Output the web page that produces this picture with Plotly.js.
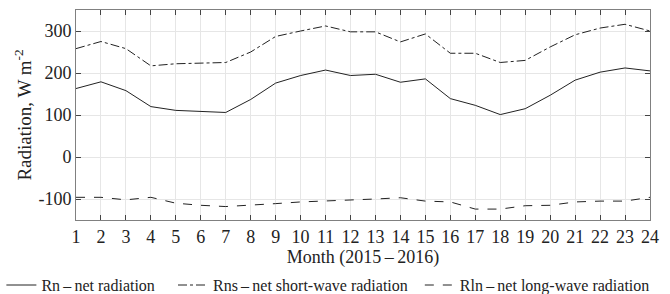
<!DOCTYPE html>
<html><head><meta charset="utf-8">
<script src="https://cdn.plot.ly/plotly-3.0.1.min.js"></script>
<style>html,body{margin:0;padding:0;background:#fff}#chart{width:670px;height:294px}</style>
</head><body><div id="chart"></div>
<script>
const months = [1,2,3,4,5,6,7,8,9,10,11,12,13,14,15,16,17,18,19,20,21,22,23,24];
const rn  = [163,179,158,120,111,108,106,137,176,194,207,194,197,178,186,139,123,101,115,147,183,202,212,205];
const rns = [258,275,258,217,222,223,225,250,287,300,312,298,298,274,293,247,247,225,230,262,291,307,316,300];
const rln = [-96,-96,-102,-96,-110,-115,-118,-115,-111,-107,-105,-103,-100,-97,-105,-107,-124,-124,-116,-115,-107,-105,-105,-96];
const names = ['Rn\u2009\u2013\u2009net radiation','Rns\u2009\u2013\u2009net short-wave radiation','Rln\u2009\u2013\u2009net long-wave radiation'];
const yTicks = [-100,0,100,200,300];

const ff = '"Liberation Serif", "Times New Roman", serif';
const F = (s)=>({family:ff, size:s, color:'#222'});
const traces = [
  {x:months, y:rn, name:names[0], mode:'lines', legend:'legend', line:{color:'#222', width:1, dash:'solid'}},
  {x:months, y:rns, name:names[1], mode:'lines', legend:'legend2', line:{color:'#222', width:1, dash:'dashdot'}},
  {x:months, y:rln, name:names[2], mode:'lines', legend:'legend3', line:{color:'#222', width:1, dash:'dash'}}
];
const leg = (x)=>({orientation:'h', x:x, xanchor:'left', y:-0.31, yanchor:'middle', font:F(16), bgcolor:'rgba(0,0,0,0)'});
const axisCommon = {showgrid:true, gridcolor:'#e6e6e6', gridwidth:1, ticks:'inside', ticklen:5, tickcolor:'#444',
  showline:true, linecolor:'#808080', linewidth:1, mirror:'ticks', zeroline:false};
const layout = {
  width:670, height:294,
  margin:{l:76, r:20, t:10, b:74, autoexpand:false},
  paper_bgcolor:'#fff', plot_bgcolor:'#fff',
  font:F(18),
  showlegend:true,
  legend:leg(-0.13),
  legend2:leg(0.169),
  legend3:leg(0.599),
  xaxis:Object.assign({range:[1,24], tickvals:months, ticktext:months.map(String), tickfont:F(18),
    title:{text:'Month (2015\u2009\u2013\u20092016)', font:F(18), standoff:4}}, axisCommon),
  yaxis:Object.assign({range:[-150,350], tickvals:yTicks, ticktext:yTicks.map(String), tickfont:F(18),
    title:{text:'Radiation, W m<sup>-2</sup>', font:F(19), standoff:1}}, axisCommon)
};
Plotly.newPlot('chart', traces, layout, {displayModeBar:false, staticPlot:true});
</script></body></html>
